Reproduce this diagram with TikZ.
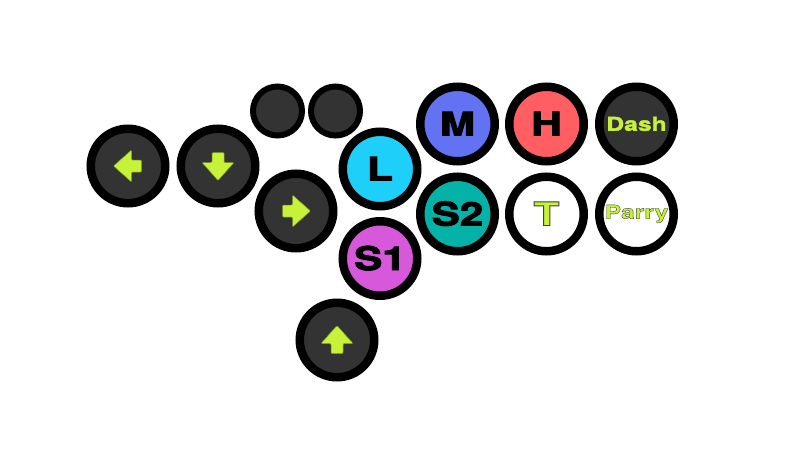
\documentclass[tikz,border=0pt]{standalone}
\usepackage{fontspec}
\usepackage{graphicx}
\newfontfamily\btnfont[FakeStretch=1.3,FakeBold=3]{TeX Gyre Heros}
\newfontfamily\wordfont[FakeStretch=1.3,FakeBold=2]{TeX Gyre Heros}
\newcommand{\darkstroke}{\special{pdf:literal direct 0.25 0.25 0.2 RG}}
\definecolor{dark}{HTML}{333333}
\definecolor{lime}{HTML}{C6F23A}
\definecolor{limeedge}{HTML}{7E9A22}
\definecolor{cyanL}{HTML}{1ECFFA}
\definecolor{blueM}{HTML}{6272F2}
\definecolor{redH}{HTML}{FF5E63}
\definecolor{tealS}{HTML}{05B2A8}
\definecolor{pinkS}{HTML}{D858DC}
\begin{document}
\begin{tikzpicture}[x=1pt,y=-1pt,
  btn/.style={circle, draw=black, line width=8.5pt, minimum size=74.5pt, inner sep=0pt,
    text height=23pt, text depth=0pt,
    font=\btnfont\bfseries\fontsize{32.5}{32.5}\selectfont},
  wordbtn/.style={btn, text=lime, text height=13.5pt, text depth=0pt,
    font=\wordfont\bfseries\fontsize{19}{19}\selectfont},
  smallbtn/.style={circle, draw=black, line width=6pt, fill=dark, minimum size=49pt, inner sep=0pt},
  dirarrow/.pic={\filldraw[fill=lime, draw=limeedge, line width=0.5pt, rounded corners=1pt]
     (0,-14.5) -- (16,3.5) -- (6,3.5) -- (6,13.5) -- (-6,13.5) -- (-6,3.5) -- (-16,3.5) -- cycle;}
]
\useasboundingbox (0,0) rectangle (800,450);
\fill[white] (0,0) rectangle (800,450);
% direction buttons
\node[btn, fill=dark] (left)  at (128,166) {};
\node[btn, fill=dark] (down)  at (218,166) {};
\node[btn, fill=dark] (right) at (296,211) {};
\node[btn, fill=dark] (up)    at (337,340) {};
\pic[rotate=90]  at (left)  {dirarrow};
\pic[rotate=180] at (down)  {dirarrow};
\pic[rotate=-90] at (right) {dirarrow};
\pic at (up) {dirarrow};
% small buttons
\node[smallbtn] (sa) at (277.5,111) {};
\node[smallbtn] (sb) at (335.5,111) {};
% attack buttons
\node[btn, fill=cyanL] (L)  at (380,169) {L};
\node[btn, fill=blueM] (M)  at (457.5,124) {M};
\node[btn, fill=redH]  (H)  at (546.5,124) {H};
\node[wordbtn, fill=dark] (dash) at (636.5,124) {Dash};
\node[btn, fill=tealS] (S2) at (457.5,214) {S2};
\node[btn, fill=white, text=lime] (T) at (546.5,214) {\darkstroke T};
\node[wordbtn, fill=white, text height=13.5pt, text depth=4pt] (parry) at (636.5,214) {\darkstroke Parry};
\node[btn, fill=pinkS] (S1) at (380,258.5) {S1};
\end{tikzpicture}
\end{document}
